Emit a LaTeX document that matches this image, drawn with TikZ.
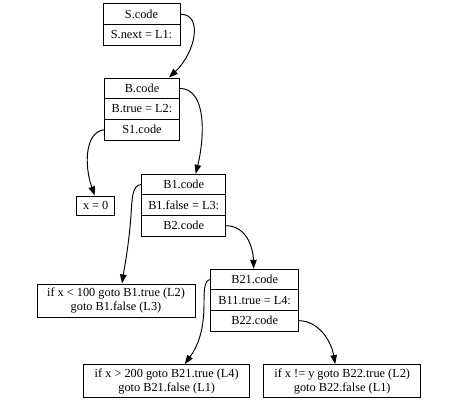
\documentclass[tikz,border=0pt]{standalone}
\usepackage{fontspec}
\setmainfont{Liberation Serif}
\usetikzlibrary{arrows.meta}
\begin{document}
\begin{tikzpicture}[x=1pt,y=-1pt,
  every node/.style={font=\rmfamily\fontsize{12.3}{14}\selectfont},
  field/.style={draw, line width=0.95pt, minimum height=20.6pt, inner sep=0pt, anchor=center},
  box/.style={draw, line width=0.95pt, inner sep=0pt, align=center, anchor=center},
  edge/.style={line width=0.95pt, -{Triangle[length=9pt,width=6.5pt]}}]
\useasboundingbox (0,0) rectangle (456,403);

% record S
\node[field, minimum width=77pt] (Scode) at (141.5,14.25) {S.code};
\node[field, minimum width=77pt] (Snext) at (141.5,34.75) {S.next = L1:};

% record B
\node[field, minimum width=74.6pt] (Bcode) at (142,88.3) {B.code};
\node[field, minimum width=74.6pt] (Btrue) at (142,109) {B.true = L2:};
\node[field, minimum width=74.6pt] (S1code) at (142,129.7) {S1.code};

% record B1
\node[field, minimum width=84pt] (B1code) at (183.7,184.6) {B1.code};
\node[field, minimum width=84pt] (B1false) at (183.7,205.1) {B1.false = L3:};
\node[field, minimum width=84pt] (B2code) at (183.7,225.7) {B2.code};

% record B21
\node[field, minimum width=88pt] (B21code) at (254.7,279.6) {B21.code};
\node[field, minimum width=88pt] (B11true) at (254.7,300.2) {B11.true = L4:};
\node[field, minimum width=88pt] (B22code) at (254.7,320.7) {B22.code};

% plain boxes
\node[box, minimum width=38.5pt, minimum height=19pt] (x0) at (95.7,205.5) {x = 0};
\node[box, minimum width=158pt, minimum height=33pt] (L100) at (116,300.5)
  {if x < 100 goto B1.true (L2)\\goto B1.false (L3)};
\node[box, minimum width=165.5pt, minimum height=33pt] (L200) at (166.7,381)
  {if x > 200 goto B21.true (L4)\\goto B21.false (L1)};
\node[box, minimum width=156.5pt, minimum height=33pt] (Lneq) at (342.2,381)
  {if x != y goto B22.true (L2)\\goto B22.false (L1)};

% connectors
\draw[edge] (Scode.east) .. controls (203,14) and (196,52) .. ([xshift=27pt]Bcode.north);
\draw[edge] (Bcode.east) .. controls (208,89) and (204,140) .. ([xshift=12pt]B1code.north);
\draw[edge] (S1code.west) .. controls (85,132) and (84,165) .. ([xshift=-1pt]x0.north);
\draw[edge] (B1code.west) .. controls (132,184.6) and (132,200) .. (131,215)
  .. controls (129,245) and (124,270) .. ([xshift=6pt]L100.north);
\draw[edge] (B2code.east) .. controls (245,226) and (253,245) .. ([xshift=-1pt]B21code.north);
\draw[edge] (B21code.west) .. controls (204,280) and (204,292) .. (204,305)
  .. controls (204,335) and (195,350) .. ([xshift=18pt]L200.north);
\draw[edge] (B22code.east) .. controls (318,321) and (331,340) .. ([xshift=-7pt]Lneq.north);
\end{tikzpicture}
\end{document}
